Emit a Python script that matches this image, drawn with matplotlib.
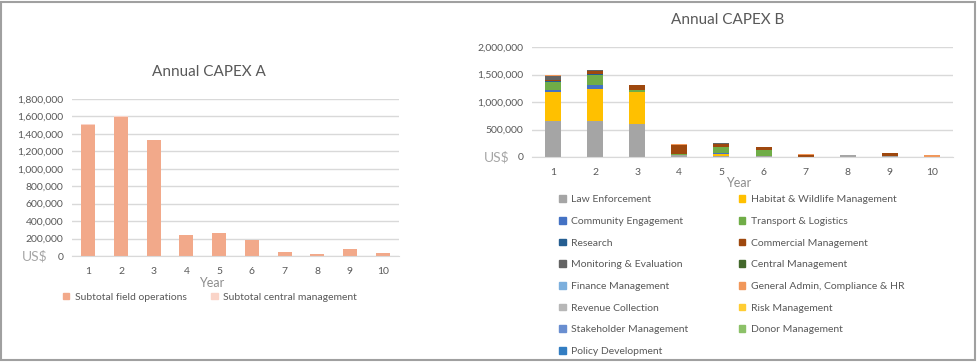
import matplotlib.pyplot as plt
from matplotlib.patches import Patch, Rectangle

plt.rcParams['font.family'] = ['Lato', 'DejaVu Sans']

# --- data ---
years = [1, 2, 3, 4, 5, 6, 7, 8, 9, 10]

a_labels = ["Subtotal field operations", "Subtotal central management"]
a_field = [1500000, 1595000, 1325000, 240000, 265000, 185000, 50000, 28000, 75000, 38000]
a_central = [12000, 5000, 0, 0, 0, 0, 0, 0, 0, 0]
a_colors = ["#F2A98A", "#FAD4C8"]

b_labels = [
    "Law Enforcement", "Habitat & Wildlife Management",
    "Community Engagement", "Transport & Logistics",
    "Research", "Commercial Management",
    "Monitoring & Evaluation", "Central Management",
    "Finance Management", "General Admin, Compliance & HR",
    "Revenue Collection", "Risk Management",
    "Stakeholder Management", "Donor Management",
    "Policy Development",
]
b_colors = [
    "#A5A5A5", "#FFC000", "#4472C4", "#70AD47", "#255E91",
    "#9E480E", "#636363", "#43682B", "#7CAFDD", "#F1975A",
    "#B7B7B7", "#FFCD33", "#698ED0", "#8CC168", "#327DC2",
]
law_enforcement = [660000, 655000, 600000, 30000, 25000, 20000, 0, 30000, 20000, 0]
habitat = [530000, 585000, 580000, 0, 30000, 0, 0, 0, 0, 0]
community = [30000, 75000, 0, 0, 20000, 0, 0, 0, 0, 0]
transport = [150000, 175000, 45000, 20000, 100000, 110000, 0, 0, 0, 0]
research = [10000, 15000, 0, 0, 0, 0, 0, 0, 0, 0]
commercial = [25000, 60000, 80000, 170000, 55000, 50000, 30000, 0, 60000, 0]
monitoring = [70000, 25000, 0, 0, 25000, 0, 0, 0, 0, 0]
central_mgmt = [0, 0, 0, 0, 0, 0, 0, 0, 0, 0]
finance = [0, 0, 0, 0, 0, 0, 0, 0, 0, 0]
general_admin = [15000, 0, 5000, 20000, 0, 0, 20000, 0, 0, 35000]
revenue = [0, 0, 0, 0, 0, 0, 0, 0, 0, 0]
risk = [0, 0, 0, 0, 0, 0, 0, 0, 0, 0]
stakeholder = [0, 0, 0, 0, 0, 0, 0, 0, 0, 0]
donor = [0, 0, 0, 0, 0, 0, 0, 0, 0, 0]
policy = [0, 0, 0, 0, 0, 0, 0, 0, 0, 0]
b_series = [law_enforcement, habitat, community, transport, research,
            commercial, monitoring, central_mgmt, finance, general_admin,
            revenue, risk, stakeholder, donor, policy]

TXT = "#595959"
GRID = "#D9D9D9"
W, H = 979, 364


def style_axis(ax, ymax, step):
    ax.set_xlim(0.5, 10.5)
    ax.set_ylim(0, ymax)
    ax.set_yticks(range(0, ymax + 1, step))
    ax.set_yticklabels([f"{v:,}" for v in range(0, ymax + 1, step)])
    ax.set_xticks(years)
    ax.grid(axis="y", color=GRID, linewidth=1)
    ax.set_axisbelow(True)
    for s in ["top", "right", "left"]:
        ax.spines[s].set_visible(False)
    ax.spines["bottom"].set_color(GRID)
    ax.tick_params(length=0, labelsize=7.5, colors=TXT)
    ax.tick_params(axis="y", pad=6)
    ax.tick_params(axis="x", pad=8)


fig = plt.figure(figsize=(W / 100, H / 100), dpi=100)

# --- chart A ---
axA = fig.add_axes([72 / W, 1 - 256 / H, 327 / W, 157 / H])
axA.bar(years, a_field, width=0.43, color=a_colors[0], label=a_labels[0])
axA.bar(years, a_central, width=0.43, bottom=a_field, color=a_colors[1], label=a_labels[1])
style_axis(axA, 1800000, 200000)
fig.text(209 / W, 1 - 72 / H, "Annual CAPEX A", ha="center", va="center", fontsize=11, color=TXT)
fig.text(35 / W, 1 - 256 / H, "US$", ha="center", va="center", fontsize=10, color="#A6A6A6")
fig.text(212 / W, 1 - 283 / H, "Year", ha="center", va="center", fontsize=9, color="#8C8C8C")
hA = [Patch(color=c) for c in a_colors]
fig.legend(hA, a_labels, loc="center", bbox_to_anchor=(210 / W, 1 - 297 / H), ncol=2,
           frameon=False, fontsize=7.5, labelcolor=TXT, handlelength=0.6, handleheight=0.6,
           handletextpad=0.5, columnspacing=2.4)

# --- chart B ---
axB = fig.add_axes([532 / W, 1 - 157 / H, 421 / W, 110 / H])
bottom = [0] * len(years)
for vals, col, lab in zip(b_series, b_colors, b_labels):
    axB.bar(years, vals, width=0.38, bottom=bottom, color=col, label=lab)
    bottom = [b + v for b, v in zip(bottom, vals)]
style_axis(axB, 2000000, 500000)
fig.text(728 / W, 1 - 20 / H, "Annual CAPEX B", ha="center", va="center", fontsize=11, color=TXT)
fig.text(497 / W, 1 - 157 / H, "US$", ha="center", va="center", fontsize=10, color="#A6A6A6")
fig.text(739 / W, 1 - 183 / H, "Year", ha="center", va="center", fontsize=9, color="#8C8C8C")

# legend filled row by row, like the original
order = list(range(0, 15, 2)) + list(range(1, 15, 2))
hB = [Patch(color=b_colors[i]) for i in order]
lB = [b_labels[i] for i in order]
fig.legend(hB, lB, loc="upper left", bbox_to_anchor=(550 / W, 1 - 186 / H), ncol=2,
           frameon=False, fontsize=7.5, labelcolor=TXT, handlelength=0.6, handleheight=0.6,
           handletextpad=0.5, columnspacing=4.9, labelspacing=1.215)

# outer frame
fig.patches.append(Rectangle((1 / W, 4 / H), 974 / W, 358 / H, transform=fig.transFigure,
                             fill=False, edgecolor="#A0A0A0", linewidth=1.5))

fig.savefig("out.png", dpi=100)
